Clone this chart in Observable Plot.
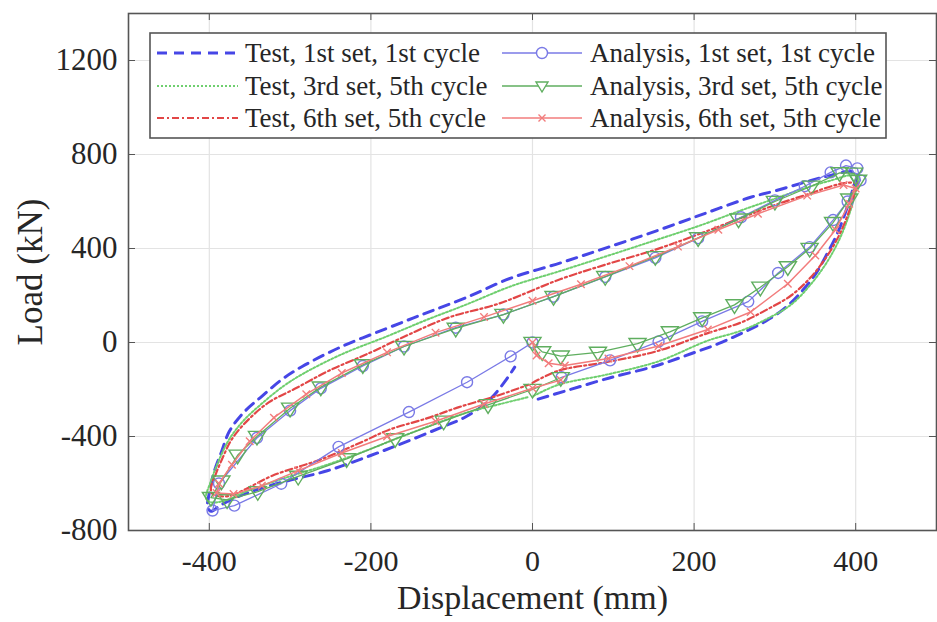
<!DOCTYPE html>
<html>
<head>
<meta charset="utf-8">
<script src="https://cdn.jsdelivr.net/npm/d3@7"></script>
<script src="https://cdn.jsdelivr.net/npm/@observablehq/plot@0.6"></script>
<style>
  html, body { margin: 0; padding: 0; background: #fff; }
  #wrap { position: relative; width: 937px; height: 622px; font-family: "Liberation Serif", "Times New Roman", serif; }
  #legend { position: absolute; left: 0; top: 0; }
</style>
</head>
<body>
<div id="wrap"></div>
<script>
// ---- axis ticks ----
const xTicks = [-400, -200, 0, 200, 400];
const yTicks = [-800, -400, 0, 400, 800, 1200];
const xLabel = "Displacement (mm)";
const yLabel = "Load (kN)";

// ---- series names ----
const seriesNames = [
  "Test, 1st set, 1st cycle", "Test, 3rd set, 5th cycle", "Test, 6th set, 5th cycle",
  "Analysis, 1st set, 1st cycle", "Analysis, 3rd set, 5th cycle", "Analysis, 6th set, 5th cycle"
];

// ---- Test, 1st set, 1st cycle [displacement mm, load kN] ----
const test1 = [
  [7,-241],[40,-207],[94,-152],[152,-100],[196,-48],[230,-5],[258,38],[288,90],[310,140],[330,205],
  [350,290],[365,380],[378,470],[390,580],[398,670],[402,715],
  [395,728],[370,712],[347,692],[300,645],[270,618],[214,550],[156,478],[94,406],[35,339],[-26,275],
  [-83,190],[-132,125],[-181,59],[-236,-17],[-285,-102],[-310,-157],[-335,-229],[-357,-296],[-375,-377],
  [-385,-466],[-394,-550],[-400,-640],[-402,-700],[-398,-718],
  [-385,-690],[-353,-640],[-305,-590],[-254,-546],[-202,-483],[-169,-440],[-112,-360],[-83,-317],
  [-55,-250],[-35,-170],[-22,-105]
];

// ---- Test, 3rd set, 5th cycle ----
const test3 = [
  [1,-228],[32,-180],[94,-135],[156,-80],[217,8],[258,50],[290,100],[320,161],[345,250],[365,345],
  [380,440],[392,545],[400,640],[404,700],
  [395,712],[370,690],[340,660],[300,612],[258,562],[205,495],[152,435],[94,370],[35,305],[-26,240],
  [-83,160],[-132,95],[-181,25],[-236,-50],[-285,-135],[-310,-190],[-335,-260],[-357,-330],[-375,-410],
  [-388,-500],[-398,-590],[-404,-664],
  [-398,-680],[-380,-672],[-353,-632],[-305,-575],[-254,-520],[-202,-455],[-169,-410],[-112,-335],
  [-83,-300],[-40,-262],[-5,-232]
];

// ---- Test, 6th set, 5th cycle ----
const test6 = [
  [0,-172],[32,-120],[94,-82],[156,-35],[217,40],[258,85],[290,140],[320,200],[345,280],[365,370],
  [380,460],[392,560],[400,650],[403,675],
  [390,680],[370,665],[340,630],[300,585],[258,530],[205,460],[152,395],[94,335],[35,270],[-42,165],
  [-104,106],[-165,15],[-202,-45],[-252,-120],[-293,-195],[-326,-254],[-351,-326],[-372,-411],
  [-384,-495],[-392,-560],[-398,-620],
  [-396,-645],[-385,-655],[-372,-650],[-354,-622],[-322,-567],[-260,-495],[-211,-423],[-178,-372],
  [-130,-322],[-91,-275],[-45,-228],[-5,-180]
];

// ---- Analysis, 1st set, 1st cycle ----
const ana1 = [
  [0,0],[-27,-59],[-81,-169],[-153,-296],[-240,-444],[-311,-601],[-369,-694],[-396,-715],
  [-388,-600],[-341,-406],[-300,-290],[-262,-195],[-210,-100],[-159,-17],[-95,63],[-36,119],[26,195],
  [90,279],[152,360],[205,444],[258,533],[300,605],[337,665],[369,724],[388,753],[402,741],[406,690],
  [390,600],[372,521],[343,406],[304,296],[267,174],[210,90],[156,4],[96,-76],[36,-148]
];

// ---- Analysis, 3rd set, 5th cycle ----
const ana3 = [
  [0,0],[12,-40],[35,-58],[81,-42],[130,-5],[170,45],[210,105],[250,160],[282,235],[316,322],[343,400],
  [372,510],[392,610],[403,690],[398,720],[380,722],
  [345,665],[300,600],[255,525],[205,445],[152,365],[90,280],[26,195],[-36,119],[-95,60],[-159,-17],
  [-210,-95],[-262,-190],[-300,-280],[-341,-400],[-365,-480],[-385,-590],[-398,-660],
  [-378,-670],[-340,-635],[-290,-570],[-230,-495],[-170,-410],[-110,-335],[-55,-265],[0,-200],[35,-150]
];

// ---- Analysis, 6th set, 5th cycle ----
const ana6 = [
  [0,0],[5,-55],[20,-88],[40,-98],[94,-68],[156,-15],[217,55],[270,130],[316,250],[350,370],
  [375,480],[392,590],[400,655],[385,670],
  [340,625],[279,548],[230,480],[180,408],[120,325],[60,248],[0,178],[-60,108],[-120,42],[-180,-42],
  [-236,-130],[-280,-220],[-320,-320],[-350,-420],[-372,-520],[-388,-600],[-391,-640],
  [-370,-645],[-335,-610],[-290,-545],[-236,-470],[-180,-400],[-120,-335],[-60,-262],[0,-195],[35,-160]
];

const toRows = (arr, s) => arr.map(([x, y], i) => ({x, y, s, i}));

const blueT = "#4646e6", greenT = "#6fcf6f", redT = "#e24646";
const blueA = "#7a7ae6", greenA = "#5fae5f", redA = "#f27c7c";
const serif = "'Liberation Serif', 'Times New Roman', serif";

const triDown = {
  draw(ctx, size) {
    const r = Math.sqrt(size / 1.3);
    ctx.moveTo(-r, -r * 0.6);
    ctx.lineTo(r, -r * 0.6);
    ctx.lineTo(0, r * 1.0);
    ctx.closePath();
  }
};

const W = 937, H = 622, mL = 128, mR = 1, mT = 13, mB = 92;
const fw = W - mL - mR, fh = H - mT - mB;

const chart = Plot.plot({
  width: W, height: H,
  marginLeft: mL, marginRight: mR, marginTop: mT, marginBottom: mB,
  style: {fontFamily: serif, color: "#262626", background: "#fff"},
  x: {domain: [-500, 500]},
  y: {domain: [-800, 1400]},
  marks: [
    Plot.ruleX(xTicks, {stroke: "#e3e3e3", strokeWidth: 1.2}),
    Plot.ruleY(yTicks, {stroke: "#e3e3e3", strokeWidth: 1.2}),
    // tests
    Plot.line(toRows(test1, seriesNames[0]), {x: "x", y: "y", stroke: blueT, strokeWidth: 3, strokeDasharray: "10,7", curve: "catmull-rom"}),
    Plot.line(toRows(test3, seriesNames[1]), {x: "x", y: "y", stroke: greenT, strokeWidth: 2, strokeDasharray: "2,2", curve: "catmull-rom"}),
    Plot.line(toRows(test6, seriesNames[2]), {x: "x", y: "y", stroke: redT, strokeWidth: 2.2, strokeDasharray: "7,3,2,3", curve: "catmull-rom"}),
    // analyses
    Plot.line(toRows(ana1, seriesNames[3]), {x: "x", y: "y", stroke: blueA, strokeWidth: 1.3}),
    Plot.dot(toRows(ana1, seriesNames[3]), {x: "x", y: "y", stroke: blueA, r: 5.5, strokeWidth: 1.4, fill: "none"}),
    Plot.line(toRows(ana3, seriesNames[4]), {x: "x", y: "y", stroke: greenA, strokeWidth: 1.3}),
    Plot.dot(toRows(ana3, seriesNames[4]), {x: "x", y: "y", stroke: greenA, symbol: triDown, r: 5.5, strokeWidth: 1.4, fill: "none"}),
    Plot.line(toRows(ana6, seriesNames[5]), {x: "x", y: "y", stroke: redA, strokeWidth: 1.5}),
    Plot.dot(toRows(ana6, seriesNames[5]), {x: "x", y: "y", stroke: redA, symbol: "times", r: 3.5, strokeWidth: 1.4}),
    // inward ticks
    Plot.tickY(yTicks, {y: d => d, insetRight: fw - 7, stroke: "#555"}),
    Plot.tickY(yTicks, {y: d => d, insetLeft: fw - 7, stroke: "#555"}),
    Plot.tickX(xTicks, {x: d => d, insetTop: fh - 7, stroke: "#555"}),
    Plot.tickX(xTicks, {x: d => d, insetBottom: fh - 7, stroke: "#555"}),
    Plot.frame({stroke: "#555", strokeWidth: 1.6}),
    Plot.axisX(xTicks, {tickSize: 0, tickPadding: 19, fontSize: 30, label: null, tickFormat: d => String(d)}),
    Plot.axisY(yTicks, {tickSize: 0, tickPadding: 11, fontSize: 31, label: null, tickFormat: d => String(d)}),
    Plot.text([xLabel], {frameAnchor: "bottom", dy: 68, lineAnchor: "middle", textAnchor: "middle", fontSize: 34, fill: "#262626"}),
    Plot.text([yLabel], {frameAnchor: "left", dx: -98, rotate: -90, lineAnchor: "middle", textAnchor: "middle", fontSize: 35, fill: "#262626"})
  ]
});

const wrap = document.getElementById("wrap");
wrap.appendChild(chart);

// ---- legend (inside the axes, drawn as SVG overlay) ----
const ns = "http://www.w3.org/2000/svg";
const lg = document.createElementNS(ns, "svg");
lg.setAttribute("id", "legend");
lg.setAttribute("width", W);
lg.setAttribute("height", 160);
lg.style.position = "absolute"; lg.style.left = "0px"; lg.style.top = "0px";
const mk = (tag, attrs, text) => {
  const e = document.createElementNS(ns, tag);
  for (const k in attrs) e.setAttribute(k, attrs[k]);
  if (text) e.textContent = text;
  lg.appendChild(e);
  return e;
};
mk("rect", {x: 150, y: 33, width: 736, height: 105, fill: "#fff", stroke: "#555", "stroke-width": 1.6});
const rows = [53, 86, 118];
const leftStyles = [
  {stroke: blueT, "stroke-width": 3, "stroke-dasharray": "10,7"},
  {stroke: greenT, "stroke-width": 2, "stroke-dasharray": "2,2"},
  {stroke: redT, "stroke-width": 2.2, "stroke-dasharray": "7,3,2,3"}
];
const rightColors = [blueA, greenA, redA];
rows.forEach((yy, i) => {
  mk("line", Object.assign({x1: 157, x2: 238, y1: yy, y2: yy}, leftStyles[i]));
  mk("text", {x: 245, y: yy, "dominant-baseline": "central", "font-size": 27, fill: "#262626",
    "font-family": serif}, seriesNames[i]);
  mk("line", {x1: 502, x2: 582, y1: yy, y2: yy, stroke: rightColors[i], "stroke-width": 1.3});
  if (i === 0) mk("circle", {cx: 542, cy: yy, r: 5.5, fill: "#fff", stroke: blueA, "stroke-width": 1.4});
  if (i === 1) mk("path", {d: `M${542-6},${yy-4}L${542+6},${yy-4}L${542},${yy+6}Z`, fill: "#fff", stroke: greenA, "stroke-width": 1.4});
  if (i === 2) mk("path", {d: `M${542-3.5},${yy-3.5}L${542+3.5},${yy+3.5}M${542+3.5},${yy-3.5}L${542-3.5},${yy+3.5}`, stroke: redA, "stroke-width": 1.4});
  mk("text", {x: 590, y: yy, "dominant-baseline": "central", "font-size": 27, fill: "#262626",
    "font-family": serif}, seriesNames[i + 3]);
});
wrap.appendChild(lg);
</script>
</body>
</html>
